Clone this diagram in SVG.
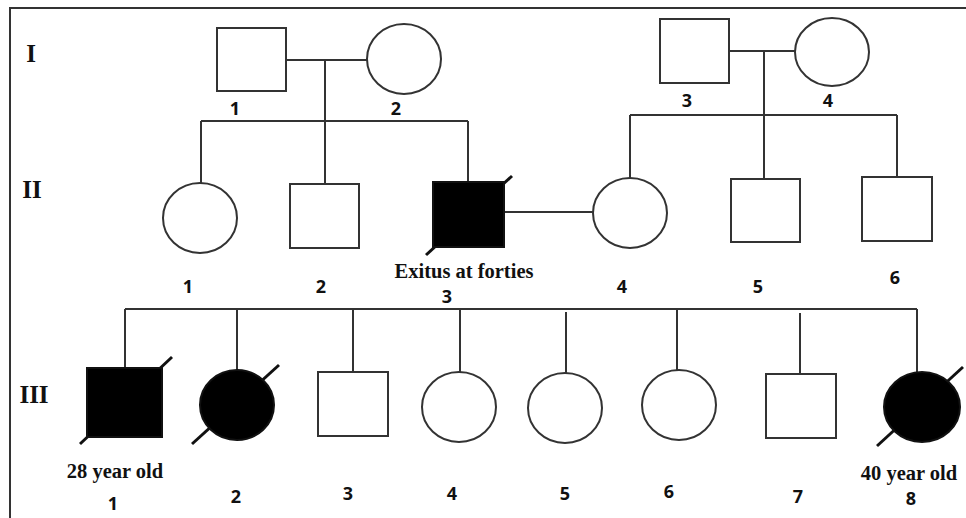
<svg xmlns="http://www.w3.org/2000/svg" width="966" height="518" viewBox="0 0 966 518">
<style>
.sym{fill:#fff;stroke:#333;stroke-width:2}
.aff{fill:#000;stroke:#111;stroke-width:2}
.ln{stroke:#333;stroke-width:2;fill:none}
.sl{stroke:#111;stroke-width:3;fill:none}
.num{font-family:"Open Sans","Liberation Sans",sans-serif;font-weight:700;font-size:18px;fill:#111;text-anchor:middle}
.gen{font-family:"Liberation Serif",serif;font-weight:700;font-size:25px;fill:#111;text-anchor:middle}
.note{font-family:"Liberation Serif",serif;font-weight:700;font-size:20.5px;fill:#111;text-anchor:middle}
</style>
<rect width="966" height="518" fill="#fff"/>
<g id="frame"><path class="ln" d="M10,518 V8 H966"/></g>
<g id="generation-labels">
<text class="gen" x="31" y="62">I</text>
<text class="gen" x="32" y="198">II</text>
<text class="gen" x="34" y="403">III</text>
</g>
<g id="connectors">
<path class="ln" d="M286,60 H367 M325,60 V121 M201,121 H468 M201,121 V183 M325,121 V184 M468,121 V182"/>
<path class="ln" d="M729,51 H795 M764,51 V115 M630,115 H897 M630,115 V178 M764,115 V179 M897,115 V177"/>
<path class="ln" d="M504,212 H593"/>
<path class="ln" d="M125,309 H917 M125,309 V368 M237,309 V370 M353,309 V372 M460,309 V372 M566,312 V373 M677,309 V370 M800,313 V374 M917,309 V372"/>
</g>
<g id="I-1"><rect class="sym" x="217" y="28" width="69" height="63"/><text class="num" x="235" y="115">1</text></g>
<g id="I-2"><ellipse class="sym" cx="404" cy="59" rx="37" ry="35"/><text class="num" x="396" y="115">2</text></g>
<g id="I-3"><rect class="sym" x="660" y="19" width="69" height="64"/><text class="num" x="687" y="107">3</text></g>
<g id="I-4"><ellipse class="sym" cx="832" cy="52" rx="37" ry="34"/><text class="num" x="828" y="107">4</text></g>
<g id="II-1"><ellipse class="sym" cx="200" cy="218" rx="37" ry="35"/><text class="num" x="188" y="293">1</text></g>
<g id="II-2"><rect class="sym" x="290" y="184" width="69" height="64"/><text class="num" x="321" y="293">2</text></g>
<g id="II-3"><line class="sl" x1="426" y1="255" x2="512" y2="176"/><rect class="aff" x="433" y="182" width="71" height="65"/><text class="note" x="464" y="278">Exitus at forties</text><text class="num" x="447" y="303">3</text></g>
<g id="II-4"><ellipse class="sym" cx="630" cy="213" rx="37" ry="35"/><text class="num" x="622" y="293">4</text></g>
<g id="II-5"><rect class="sym" x="731" y="179" width="69" height="63"/><text class="num" x="758" y="293">5</text></g>
<g id="II-6"><rect class="sym" x="862" y="177" width="70" height="64"/><text class="num" x="895" y="284">6</text></g>
<g id="III-1"><line class="sl" x1="80" y1="444" x2="172" y2="357"/><rect class="aff" x="87" y="368" width="75" height="69"/><text class="note" x="115" y="478">28 year old</text><text class="num" x="113" y="510">1</text></g>
<g id="III-2"><line class="sl" x1="192" y1="444" x2="279" y2="365"/><ellipse class="aff" cx="237" cy="405" rx="37" ry="35"/><text class="num" x="236" y="503">2</text></g>
<g id="III-3"><rect class="sym" x="318" y="372" width="70" height="64"/><text class="num" x="348" y="500">3</text></g>
<g id="III-4"><ellipse class="sym" cx="459" cy="407" rx="37" ry="35"/><text class="num" x="452" y="500">4</text></g>
<g id="III-5"><ellipse class="sym" cx="565" cy="408" rx="37" ry="35"/><text class="num" x="565" y="500">5</text></g>
<g id="III-6"><ellipse class="sym" cx="679" cy="405" rx="37" ry="35"/><text class="num" x="669" y="498">6</text></g>
<g id="III-7"><rect class="sym" x="766" y="374" width="70" height="64"/><text class="num" x="798" y="503">7</text></g>
<g id="III-8"><line class="sl" x1="877" y1="446" x2="963" y2="367"/><ellipse class="aff" cx="922" cy="407" rx="38" ry="35"/><text class="note" x="909" y="480">40 year old</text><text class="num" x="911" y="505">8</text></g>
</svg>
